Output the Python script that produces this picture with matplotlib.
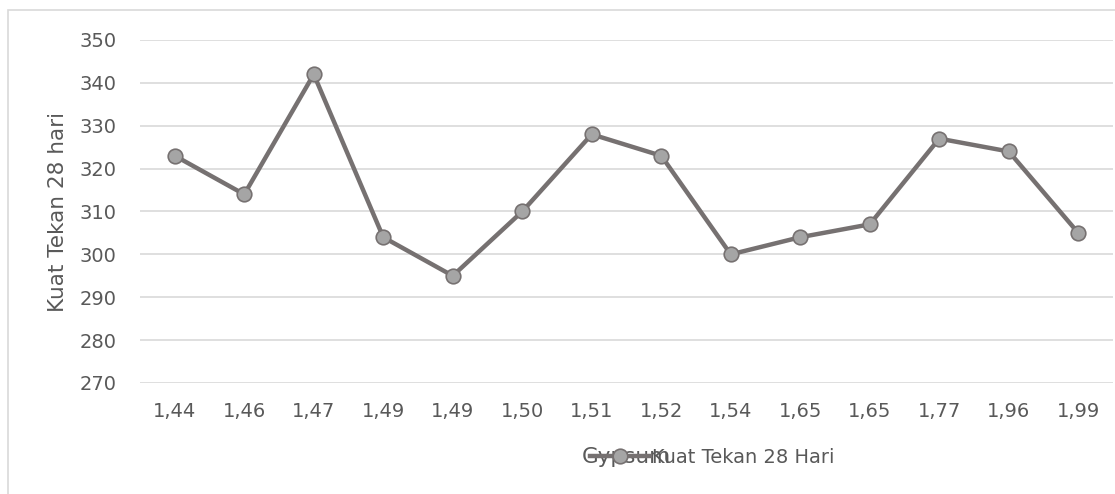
#!/usr/bin/env python3
# Kuat Tekan 28 hari vs Gypsum -> out.png
import matplotlib
matplotlib.use("Agg")
import matplotlib.pyplot as plt
from matplotlib.lines import Line2D

gypsum = ["1,44", "1,46", "1,47", "1,49", "1,49", "1,50", "1,51",
          "1,52", "1,54", "1,65", "1,65", "1,77", "1,96", "1,99"]
kuat_tekan = [323, 314, 342, 304, 295, 310, 328, 323, 300, 304, 307, 327, 324, 305]
yticks = [270, 280, 290, 300, 310, 320, 330, 340, 350]

W, H = 1115, 494
txt = "#595959"
line_c = "#767171"
mark_c = "#A5A5A5"

plt.rcParams["font.family"] = ["DejaVu Sans"]
fig = plt.figure(figsize=(W / 100, H / 100), dpi=100)
ax = fig.add_axes([140 / W, 1 - 383 / H, (1113 - 140) / W, (383 - 40) / H])

xs = list(range(len(gypsum)))
ax.plot(xs, kuat_tekan, color=line_c, lw=3.2, marker="o", ms=10.5,
        mfc=mark_c, mec=line_c, mew=1.2, solid_capstyle="round", zorder=3)

ax.set_xlim(-0.5, len(gypsum) - 0.5)
ax.set_ylim(270, 350)
ax.set_yticks(yticks)
ax.set_xticks(xs)
ax.set_xticklabels(gypsum)
ax.grid(axis="y", color="#D9D9D9", lw=1.2)
ax.set_axisbelow(True)
for s in ax.spines.values():
    s.set_visible(False)
ax.tick_params(length=0, labelsize=14, colors=txt)
ax.tick_params(axis="x", pad=14)
ax.tick_params(axis="y", pad=17)
ax.set_ylabel("Kuat Tekan 28 hari", fontsize=15.5, color=txt, labelpad=8)

# x label and legend overlap like in the original
fig.text(626 / W, 1 - 457 / H, "Gypsum", fontsize=15.5, color=txt,
         ha="center", va="center")
h = Line2D([], [], color=line_c, lw=3.2, marker="o", ms=10.5,
           mfc=mark_c, mec=line_c, mew=1.2)
fig.legend([h], ["Kuat Tekan 28 Hari"], loc="center left",
           bbox_to_anchor=(590 / W, 1 - 457 / H), frameon=False,
           fontsize=14, handlelength=3.1, handletextpad=0.1,
           borderpad=0, borderaxespad=0, labelcolor=txt)

# outer chart border
fig.add_artist(plt.Rectangle((8 / W, -0.01), 1.0, 1 - 10 / H + 0.01,
                             transform=fig.transFigure, fill=False,
                             edgecolor="#D9D9D9", lw=1.2))

fig.savefig("out.png", dpi=100, facecolor="white")
